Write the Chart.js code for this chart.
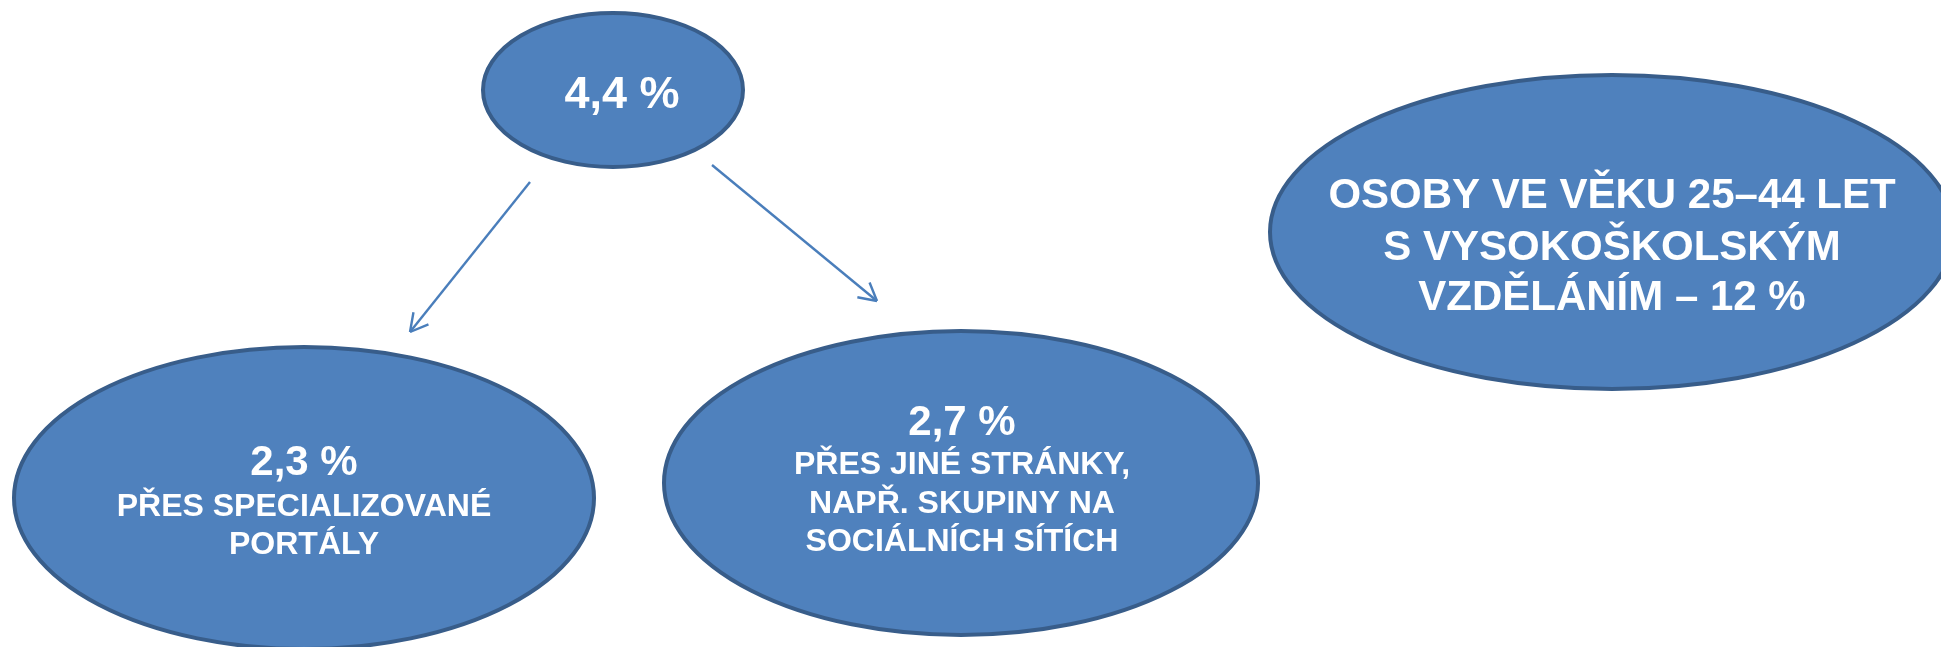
<!DOCTYPE html>
<html lang="cs">
<head>
<meta charset="utf-8">
<script src="https://cdn.jsdelivr.net/npm/chart.js@4.4.1/dist/chart.umd.min.js"></script>
<style>
    html, body { margin: 0; padding: 0; background: #ffffff; }
    #diagram { display: block; }
</style>
</head>
<body>
<canvas id="diagram" width="1941" height="647"></canvas>
<script>
// Data: podíly osob v %
const categories = ["celkem", "specializované portály", "jiné stránky", "osoby 25–44 let s VŠ"];
const shareValues = [4.4, 2.3, 2.7, 12];
const captionLines = [
    [],
    ["PŘES SPECIALIZOVANÉ", "PORTÁLY"],
    ["PŘES JINÉ STRÁNKY,", "NAPŘ. SKUPINY NA", "SOCIÁLNÍCH SÍTÍCH"],
    ["OSOBY VE VĚKU 25–44 LET", "S VYSOKOŠKOLSKÝM", "VZDĚLÁNÍM – {v}"],
];

// Rozložení (souřadnice v prostoru os 0..1941 x 0..647)
const nodeX = [613, 304, 961, 1612];
const nodeY = [90, 498, 483, 232];
const nodeRx = [130, 290, 297, 342];
const nodeRy = [77, 151, 152, 157];
const textX = [622, 304, 962, 1612];
const textBaselines = [[108], [475, 516, 554], [435, 474, 513, 551], [208, 260, 310]];
const headSize = [45, 42, 42, 42];
const captionSize = [0, 32, 32, 42];
const arrowPaths = [
    [{ x: 530, y: 182 }, { x: 410, y: 332 }],
    [{ x: 712, y: 165 }, { x: 877, y: 301 }],
];

const FILL = "#4F81BD";
const EDGE = "#385D8A";
const ARROW = "#4A7EBB";
const FONT = "'Liberation Sans', Arial, sans-serif";

function formatShare(v) {
    const s = Number.isInteger(v) ? String(v) : v.toFixed(1).replace(".", ",");
    return s + " %";
}

// Texty pro každý uzel: první řádek hodnota (pokud není v popisku), pak popisek
function nodeTexts(i) {
    const val = formatShare(shareValues[i]);
    const caps = captionLines[i];
    if (caps.some(l => l.includes("{v}"))) {
        return caps.map(l => ({ text: l.replace("{v}", val), size: captionSize[i] }));
    }
    return [{ text: val, size: headSize[i] }].concat(caps.map(l => ({ text: l, size: captionSize[i] })));
}

const ellipsePlugin = {
    id: "ellipses",
    beforeDatasetsDraw(chart) {
        const { ctx, scales } = chart;
        const meta = chart.getDatasetMeta(0);
        const sx = scales.x.getPixelForValue(1) - scales.x.getPixelForValue(0);
        const sy = Math.abs(scales.y.getPixelForValue(1) - scales.y.getPixelForValue(0));
        ctx.save();
        meta.data.forEach((pt, i) => {
            ctx.beginPath();
            ctx.ellipse(pt.x, pt.y, nodeRx[i] * sx, nodeRy[i] * sy, 0, 0, Math.PI * 2);
            ctx.fillStyle = FILL;
            ctx.fill();
            ctx.lineWidth = 4;
            ctx.strokeStyle = EDGE;
            ctx.stroke();
        });
        ctx.restore();
    },
    afterDatasetsDraw(chart) {
        const { ctx, scales } = chart;
        ctx.save();
        // hroty šipek
        for (let d = 1; d < chart.data.datasets.length; d++) {
            const pts = chart.getDatasetMeta(d).data;
            const a = pts[pts.length - 2], b = pts[pts.length - 1];
            const ang = Math.atan2(b.y - a.y, b.x - a.x);
            ctx.strokeStyle = ARROW;
            ctx.lineWidth = 2.4;
            ctx.beginPath();
            [-0.5, 0.5].forEach(off => {
                ctx.moveTo(b.x, b.y);
                ctx.lineTo(b.x - 20 * Math.cos(ang + off), b.y - 20 * Math.sin(ang + off));
            });
            ctx.stroke();
        }
        // texty
        ctx.fillStyle = "#ffffff";
        ctx.textAlign = "center";
        ctx.textBaseline = "alphabetic";
        shareValues.forEach((v, i) => {
            const lines = nodeTexts(i);
            lines.forEach((ln, k) => {
                ctx.font = "bold " + ln.size + "px " + FONT;
                ctx.fillText(ln.text, scales.x.getPixelForValue(textX[i]), scales.y.getPixelForValue(textBaselines[i][k]));
            });
        });
        ctx.restore();
    },
};

const datasets = [
    {
        label: "uzly",
        data: categories.map((c, i) => ({ x: nodeX[i], y: nodeY[i] })),
        pointRadius: 0,
        showLine: false,
    },
].concat(arrowPaths.map((p, i) => ({
    label: "šipka " + (i + 1),
    data: p,
    showLine: true,
    borderColor: ARROW,
    borderWidth: 2.4,
    pointRadius: 0,
    fill: false,
})));

new Chart(document.getElementById("diagram"), {
    type: "scatter",
    data: { datasets },
    options: {
        responsive: false,
        devicePixelRatio: 1,
        animation: false,
        layout: { padding: 0 },
        plugins: { legend: { display: false }, tooltip: { enabled: false } },
        scales: {
            x: { type: "linear", min: 0, max: 1941, display: false },
            y: { type: "linear", min: 0, max: 647, reverse: true, display: false },
        },
    },
    plugins: [ellipsePlugin],
});
</script>
</body>
</html>
